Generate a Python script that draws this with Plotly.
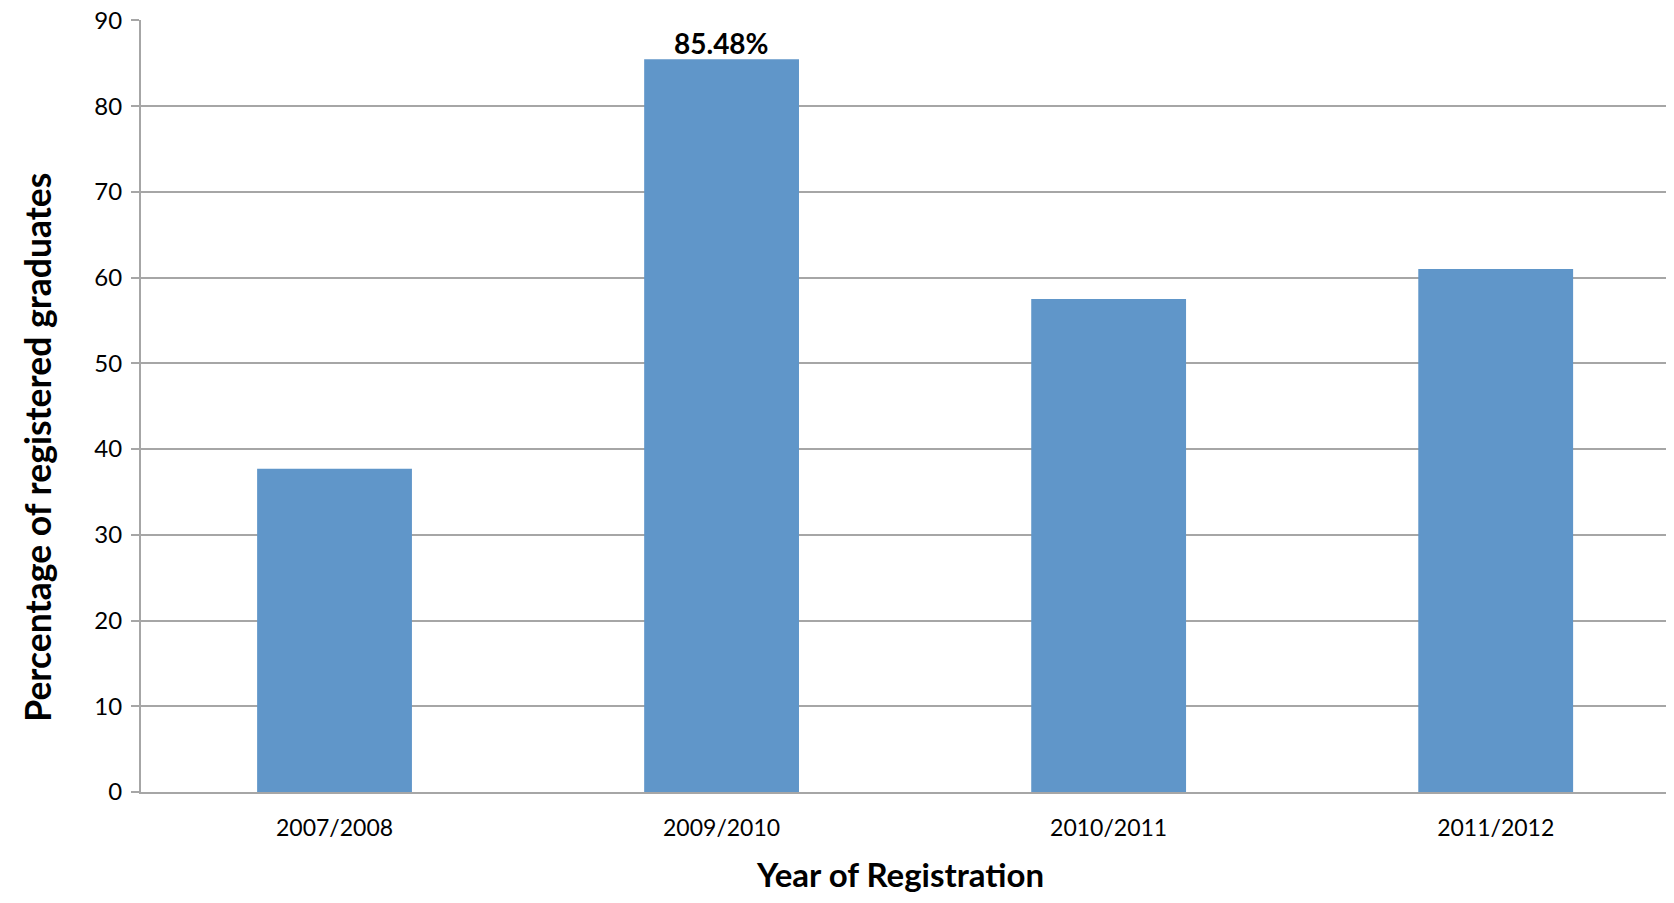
import plotly.graph_objects as go

categories = ["2007/2008", "2009/2010", "2010/2011", "2011/2012"]
values = [37.7, 85.48, 57.5, 61.0]
y_ticks = [0, 10, 20, 30, 40, 50, 60, 70, 80, 90]
labelled_index = 1

FONT = "Lato, 'Open Sans', sans-serif"
GRID = "#a6a6a6"

fig = go.Figure()
fig.add_trace(go.Bar(
    x=categories, y=values,
    marker=dict(color="#6096c9", line=dict(width=0)),
    width=0.4,
))

fig.add_annotation(
    x=categories[labelled_index], y=values[labelled_index],
    text="<b>%.2f%%</b>" % values[labelled_index],
    showarrow=False, yanchor="bottom", yshift=-3,
    font=dict(family=FONT, size=28, color="black"),
)

fig.add_annotation(
    x=-0.0675, y=0.446, xref="paper", yref="paper",
    xanchor="center", yanchor="middle",
    text="<b>Percentage of registered graduates</b>",
    textangle=-90, showarrow=False,
    font=dict(family=FONT, size=35.5, color="black"),
)
fig.add_annotation(
    x=0.498, y=-0.106, xref="paper", yref="paper",
    xanchor="center", yanchor="middle",
    text="<b>Year of Registration</b>", showarrow=False,
    font=dict(family=FONT, size=33, color="black"),
)

fig.update_layout(
    width=1658, height=887,
    margin=dict(l=133, r=0, t=12, b=103, autoexpand=False),
    plot_bgcolor="white", paper_bgcolor="white",
    showlegend=False,
    font=dict(family=FONT, size=23, color="black"),
)
fig.update_xaxes(
    range=[-0.5, 3.44],
    showgrid=False, showline=True, linecolor=GRID, linewidth=2,
    ticks="", tickfont=dict(size=23), ticklabelstandoff=14,
)
fig.update_yaxes(
    range=[0, 90.05], tickvals=y_ticks,
    showgrid=True, gridcolor=GRID, gridwidth=2,
    showline=True, linecolor=GRID, linewidth=2,
    ticks="outside", ticklen=8, tickcolor=GRID, tickwidth=2,
    tickfont=dict(size=24), zeroline=False, ticklabelstandoff=4,
    ticklabeloverflow="allow",
)

fig.write_html("out.html")
